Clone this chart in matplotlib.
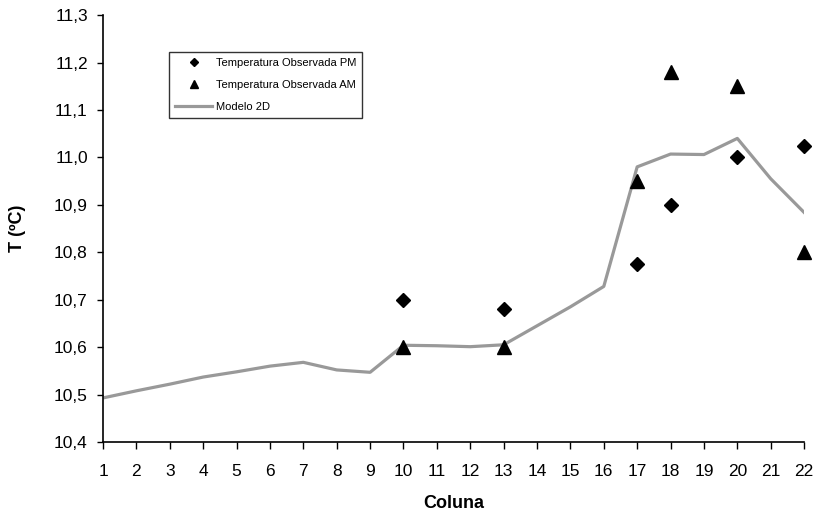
import matplotlib
matplotlib.use("Agg")
import matplotlib.pyplot as plt
from matplotlib.ticker import FuncFormatter

plt.rcParams['font.family'] = ['Liberation Sans', 'DejaVu Sans']

# Données
coluna = list(range(1, 23))
modelo_2d = [10.493, 10.508, 10.522, 10.537, 10.548, 10.560, 10.568, 10.552, 10.547, 10.604,
             10.603, 10.601, 10.605, 10.645, 10.685, 10.728, 10.980, 11.007, 11.006, 11.040,
             10.955, 10.884]
coluna_obs = [10, 13, 17, 18, 20, 22]
temp_pm = [10.70, 10.68, 10.775, 10.90, 11.00, 11.025]
temp_am = [10.60, 10.60, 10.95, 11.18, 11.15, 10.80]

fig = plt.figure(figsize=(8.19, 5.14), dpi=100)
ax = fig.add_axes([0.1258, 0.140, 0.856, 0.8307])

ax.plot(coluna_obs, temp_pm, "D", color="black", markersize=7.5, linestyle="none",
        label="Temperatura Observada PM", zorder=3, clip_on=False)
ax.plot(coluna_obs, temp_am, "^", color="black", markersize=9.5, linestyle="none",
        label="Temperatura Observada AM", zorder=3, clip_on=False)
ax.plot(coluna, modelo_2d, "-", color="#999999", linewidth=2.3, label="Modelo 2D", zorder=2)

ax.set_xlim(1, 22)
ax.set_ylim(10.4, 11.3)
ax.set_xticks(coluna)
ax.set_yticks([10.4 + 0.1 * i for i in range(10)])
ax.yaxis.set_major_formatter(FuncFormatter(lambda v, p: "{0:.1f}".format(v).replace(".", ",")))
ax.tick_params(direction="out", length=5, width=1, labelsize=12.5, colors="black")
ax.tick_params(axis="x", pad=11)
ax.tick_params(axis="y", pad=6.5, length=4.5)
for s in ["top", "right"]:
	ax.spines[s].set_visible(False)
for s in ["left", "bottom"]:
	ax.spines[s].set_linewidth(1.2)

ax.set_xlabel("Coluna", fontsize=13, fontweight="bold", va="center")
ax.set_ylabel("T (ºC)", fontsize=13, fontweight="bold", va="center")
ax.xaxis.set_label_coords(0.5, -0.143)
ax.yaxis.set_label_coords(-0.122, 0.5)

leg = ax.legend(loc="upper left", bbox_to_anchor=(0.0944, 0.913), borderaxespad=0,
                prop={"size": 8}, frameon=True, fancybox=False, edgecolor="black",
                borderpad=0.55, handlelength=3.3, handletextpad=0.35, labelspacing=1.05,
                markerscale=0.6)
leg.get_frame().set_linewidth(1)

fig.savefig("out.png", dpi=100)
